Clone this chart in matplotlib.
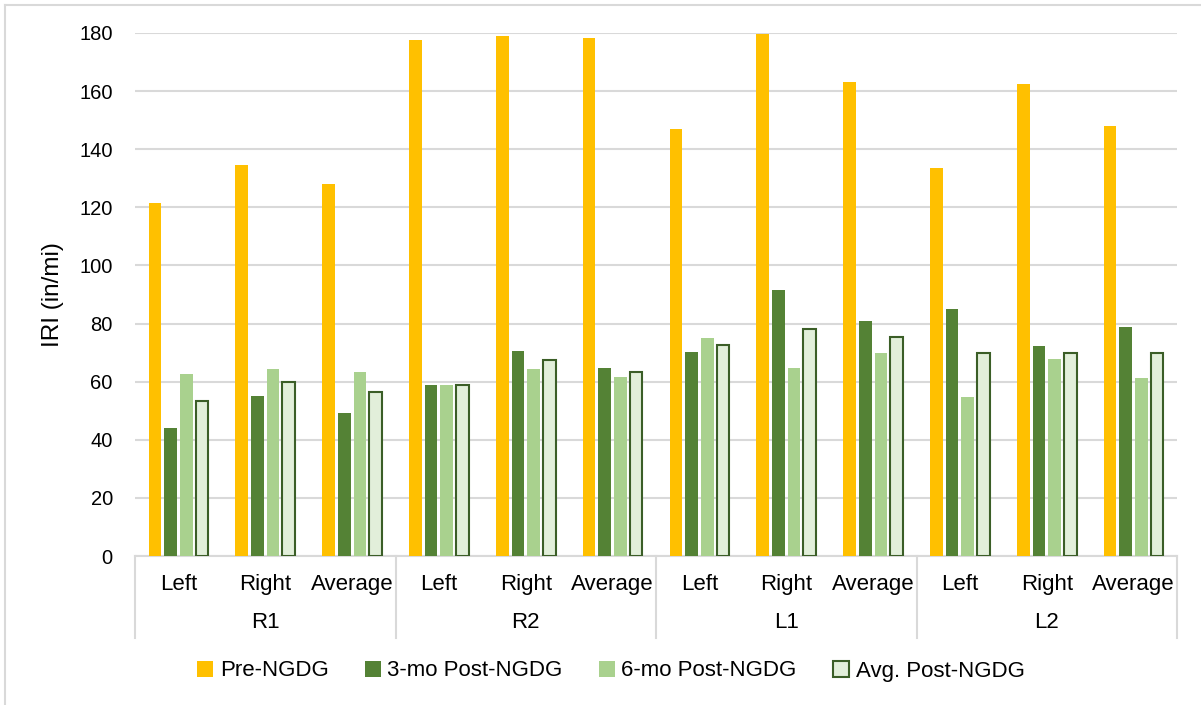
import numpy as np
import matplotlib
matplotlib.use("Agg")
import matplotlib.pyplot as plt
from matplotlib.patches import Patch
from matplotlib.lines import Line2D
import matplotlib.transforms as mtransforms

plt.rcParams['font.family'] = ['Liberation Sans', 'DejaVu Sans']

groups = ["R1", "R2", "L1", "L2"]
sides = ["Left", "Right", "Average"]
series = ["Pre-NGDG", "3-mo Post-NGDG", "6-mo Post-NGDG", "Avg. Post-NGDG"]

pre = [121.5, 134.5, 128.0, 177.5, 179.0, 178.3, 147.0, 179.7, 163.3, 133.7, 162.3, 148.0]
post3 = [44.0, 55.0, 49.3, 58.7, 70.5, 64.7, 70.2, 91.5, 80.8, 85.0, 72.3, 78.7]
post6 = [62.5, 64.5, 63.4, 59.0, 64.5, 61.7, 75.2, 64.7, 69.8, 54.7, 67.8, 61.3]
post_avg = [53.3, 59.8, 56.5, 58.9, 67.5, 63.2, 72.7, 78.2, 75.5, 70.0, 70.0, 70.0]

colors = ["#FFC000", "#548235", "#A9D18E", "#E2EFDA"]
avg_edge = "#3B5E27"
grid_col = "#D9D9D9"

fig = plt.figure(figsize=(12.01, 7.05), dpi=100)
ax = fig.add_axes([135 / 1201, 1 - 556 / 705, (1177 - 135) / 1201, 523 / 705])

n = len(pre)
x = np.arange(n) + 0.5
step = 0.18
width = 0.146
data = [pre, post3, post6, post_avg]
for k, vals in enumerate(data):
    off = (k - 1.5) * step
    if k == 3:
        ax.bar(x + off, vals, width, color=colors[k], edgecolor=avg_edge,
               linewidth=1.5, zorder=3)
    else:
        ax.bar(x + off, vals, width, color=colors[k], linewidth=0, zorder=3)

ax.set_xlim(0, n)
ax.set_ylim(0, 180)
ax.set_yticks(np.arange(0, 181, 20))
ax.yaxis.grid(True, color=grid_col, linewidth=1.5, zorder=0)
ax.set_axisbelow(True)
for s in ["top", "right", "left"]:
    ax.spines[s].set_visible(False)
ax.spines["bottom"].set_color(grid_col)
ax.spines["bottom"].set_linewidth(1.5)
ax.tick_params(axis='y', length=0, pad=16, labelsize=14.5)
ax.set_xticks(x)
ax.set_xticklabels(sides * len(groups), fontsize=16)
ax.tick_params(axis='x', length=0, pad=13)
ax.set_ylabel("IRI (in/mi)", fontsize=17.5, labelpad=11)

trans = mtransforms.blended_transform_factory(ax.transData, ax.transAxes)
sep_bottom = -82 / 523
for g in range(len(groups) + 1):
    ax.add_line(Line2D([g * 3, g * 3], [0, sep_bottom], transform=trans,
                       color=grid_col, linewidth=1.5, clip_on=False))
for g, name in enumerate(groups):
    ax.text(g * 3 + 1.5, -66 / 523, name, transform=trans, ha='center',
            va='center', fontsize=16)

handles = [Patch(facecolor=colors[0], edgecolor='none'),
           Patch(facecolor=colors[1], edgecolor='none'),
           Patch(facecolor=colors[2], edgecolor='none'),
           Patch(facecolor=colors[3], edgecolor=avg_edge, linewidth=1.5)]
fig.legend(handles, series, loc='center', bbox_to_anchor=(611 / 1201, 1 - 671 / 705),
           ncol=4, frameon=False, fontsize=16, handlelength=0.7, handleheight=0.7,
           handletextpad=0.3, columnspacing=1.65)

fig.add_artist(Line2D([5 / 1201, 1], [1 - 5 / 705, 1 - 5 / 705], transform=fig.transFigure,
                      color=grid_col, linewidth=1.5))
fig.add_artist(Line2D([5 / 1201, 5 / 1201], [0, 1 - 5 / 705], transform=fig.transFigure,
                      color=grid_col, linewidth=1.5))

fig.savefig("out.png", dpi=100)
